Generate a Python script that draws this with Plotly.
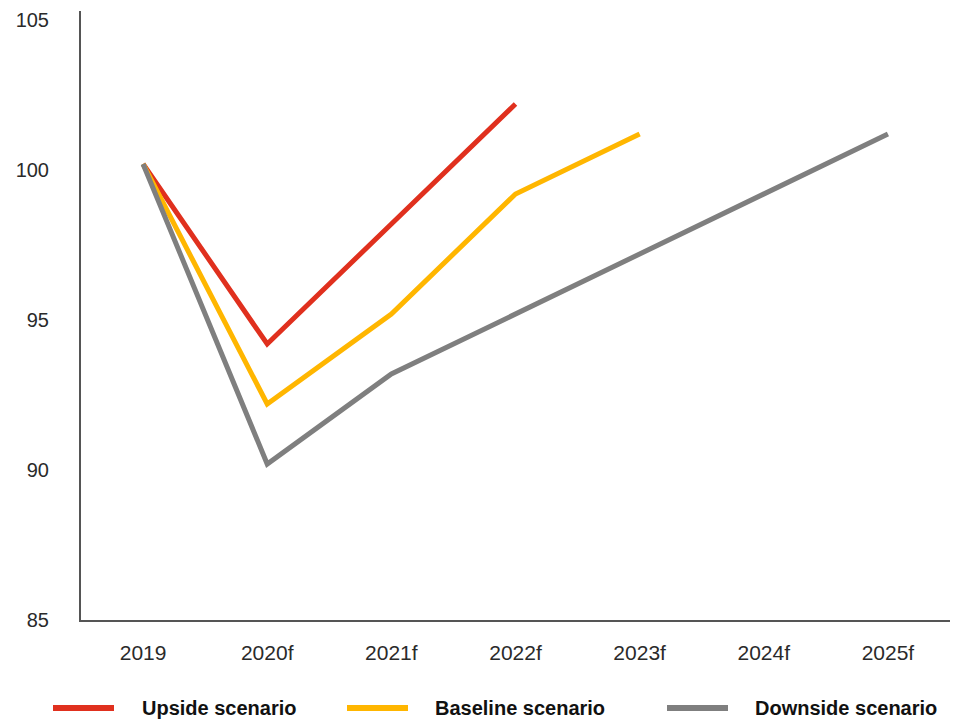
import plotly.graph_objects as go

years = ["2019", "2020f", "2021f", "2022f", "2023f", "2024f", "2025f"]
upside = [100.2, 94.2, 98.2, 102.2]
baseline = [100.2, 92.2, 95.2, 99.2, 101.2]
downside = [100.2, 90.2, 93.2, 95.2, 97.2, 99.2, 101.2]
y_ticks = [85, 90, 95, 100, 105]

names = ["Upside scenario", "Baseline scenario", "Downside scenario"]
colors = ["#E0301E", "#FFB600", "#7F7F7F"]
series = [upside, baseline, downside]

W, H = 959, 723
L, R, T, B = 81, 9, 11, 103
pw, ph = W - L - R, H - T - B

fig = go.Figure()
for name, vals, col in zip(names, series, colors):
    fig.add_trace(go.Scatter(
        x=years[:len(vals)], y=vals, mode="lines", name=name,
        line=dict(color=col, width=5), showlegend=False,
    ))

def px(x):
    return (x - L) / pw

def py(y):
    return (H - B - y) / ph

# custom legend
leg_y = 708
leg_items = [(53, 114, 140), (347, 408, 433), (667, 728, 753)]
for (x0, x1, tx), name, col in zip(leg_items, names, colors):
    fig.add_shape(type="line", xref="paper", yref="paper",
                  x0=px(x0), x1=px(x1), y0=py(leg_y), y1=py(leg_y),
                  line=dict(color=col, width=6))
    fig.add_annotation(xref="paper", yref="paper", x=px(tx), y=py(leg_y),
                       text=name, showarrow=False, xanchor="left", yanchor="middle",
                       font=dict(family="Liberation Sans, Arial, sans-serif", size=20,
                                 color="#111111", weight="bold"))

fig.update_layout(
    width=W, height=H,
    margin=dict(l=L, r=R, t=T, b=B),
    paper_bgcolor="white", plot_bgcolor="white",
    font=dict(family="Liberation Sans, Arial, sans-serif", size=20, color="#2a2a2a"),
    xaxis=dict(type="category", categoryorder="array", categoryarray=years,
               range=[-0.5, 6.5], showgrid=False, zeroline=False,
               showline=True, linecolor="#555555", linewidth=2,
               ticks="", ticklabelstandoff=13, tickfont=dict(size=21)),
    yaxis=dict(range=[85, 105.3], tickvals=y_ticks, showgrid=False, zeroline=False,
               showline=True, linecolor="#555555", linewidth=2,
               ticks="", ticklabelstandoff=26, tickfont=dict(size=20)),
)

fig.write_html("out.html", config={"displayModeBar": False},
               post_script="document.body.style.margin='0';document.body.style.overflow='hidden';")
